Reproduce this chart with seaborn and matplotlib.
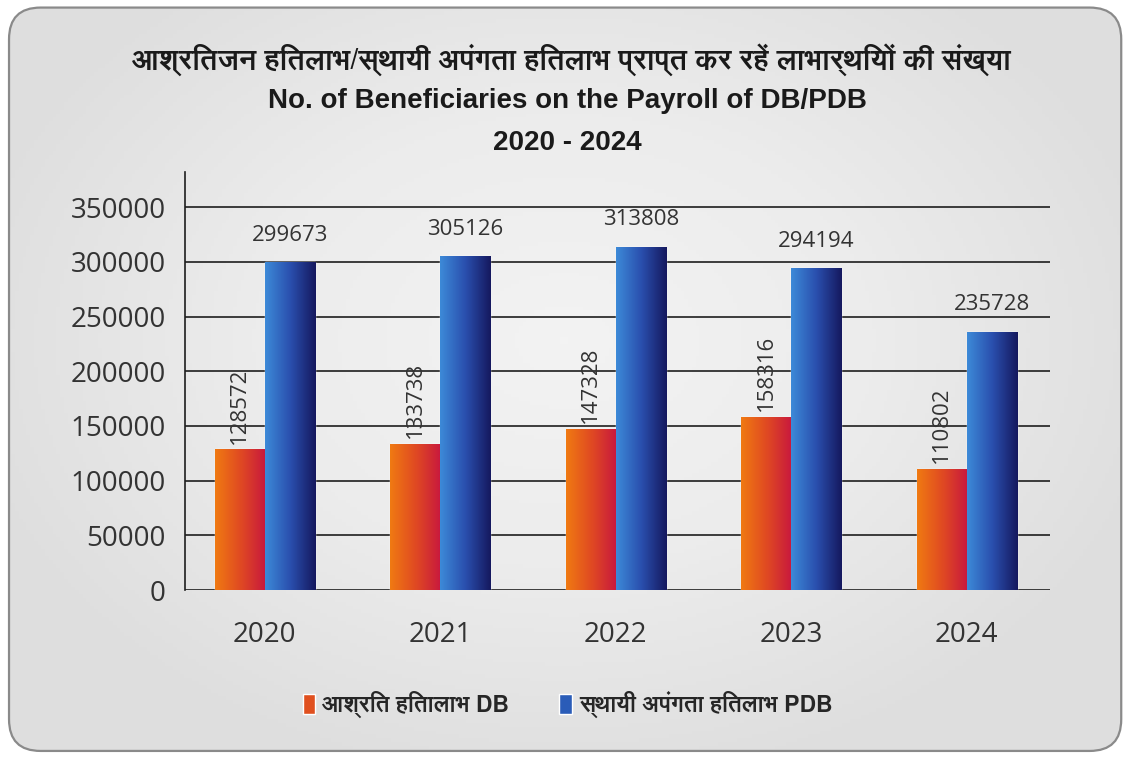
import numpy as np
import pandas as pd
import matplotlib
matplotlib.use('Agg')
import matplotlib.pyplot as plt
import seaborn as sns
from matplotlib import font_manager
from matplotlib.ft2font import FT2Font
from matplotlib.patches import FancyBboxPatch
from matplotlib.colors import LinearSegmentedColormap

# data
years = ['2020', '2021', '2022', '2023', '2024']
db_values = [128572, 133738, 147328, 158316, 110802]
pdb_values = [299673, 305126, 313808, 294194, 235728]
series_names = ['आश्रित हितालाभ DB', 'स्थायी अपंगता हितलाभ PDB']
y_ticks = [0, 50000, 100000, 150000, 200000, 250000, 300000, 350000]

title_hi = 'आश्रितजन हितलाभ/स्थायी अपंगता हितलाभ प्राप्त कर रहें लाभार्थियों की संख्या'
title_en = 'No. of Beneficiaries on the Payroll of DB/PDB'
title_yr = '2020 - 2024'


def find_devanagari_font():
    # pick an installed font with Devanagari glyphs, proportional ones first
    found = []
    for f in font_manager.fontManager.ttflist:
        try:
            if 0x0906 in FT2Font(f.fname).get_charmap():
                found.append(f.name)
        except Exception:
            pass
    found = sorted(set(found), key=lambda n: ('Mono' in n, 'Sans' not in n, n))
    return found[0] if found else None


sns.set_style('white')
deva = find_devanagari_font()
hindi_family = ([deva] if deva else []) + ['Liberation Sans', 'DejaVu Sans']
plt.rcParams['font.family'] = ['Open Sans', 'DejaVu Sans']

df = pd.DataFrame({
    'year': years * 2,
    'series': [series_names[0]] * len(years) + [series_names[1]] * len(years),
    'value': db_values + pdb_values,
})

fig = plt.figure(figsize=(11.28, 7.57), dpi=100)
fig.patch.set_facecolor('white')

# rounded grey panel with a soft radial shading behind the chart
bg_ax = fig.add_axes([0, 0, 1, 1], zorder=-5)
bg_ax.set_axis_off()
bg_ax.set_xlim(0, 1)
bg_ax.set_ylim(0, 1)
panel = FancyBboxPatch((0.008, 0.008), 0.986, 0.982, boxstyle='round,pad=0,rounding_size=0.028',
                       mutation_aspect=1128 / 757, facecolor='none', edgecolor='#8a8a8a', lw=1.6,
                       zorder=2)
bg_ax.add_patch(panel)
yy, xx = np.mgrid[0:1:200j, 0:1:300j]
shade = np.clip(np.hypot((xx - 0.5) / 0.55, (yy - 0.55) / 0.6), 0, 1)
bg_cmap = LinearSegmentedColormap.from_list('bg', ['#f3f3f3', '#ececec', '#dedede'])
bg_im = bg_ax.imshow(shade, extent=[0, 1, 0, 1], origin='lower', aspect='auto', cmap=bg_cmap, zorder=1)
bg_im.set_clip_path(panel)

ax = fig.add_axes([0.164, 0.2206, 0.767, 0.552])
ax.patch.set_alpha(0)

sns.barplot(data=df, x='year', y='value', hue='series', palette=['#e0501f', '#2a5cb8'],
            width=0.57, saturation=1, gap=0, ax=ax)

# gradient fill over each bar
cmaps = [LinearSegmentedColormap.from_list('db', ['#f07a12', '#e04a22', '#c8183e']),
         LinearSegmentedColormap.from_list('pdb', ['#3d8ad8', '#2a4fae', '#15185e'])]
grad = np.linspace(0, 1, 256).reshape(1, -1)
for cont, cmap in zip(ax.containers, cmaps):
    for bar in cont:
        x0, y0 = bar.get_x(), bar.get_y()
        im = ax.imshow(grad, extent=[x0, x0 + bar.get_width(), y0, y0 + bar.get_height()],
                       aspect='auto', cmap=cmap, zorder=bar.get_zorder() + 0.1)
        im.set_clip_path(bar)

# value labels
for bar, v in zip(ax.containers[0], db_values):
    ax.annotate(str(v), (bar.get_x() + bar.get_width() / 2, v), xytext=(0, 4),
                textcoords='offset points', ha='center', va='bottom', rotation=90,
                fontsize=16, color='#333333')
for bar, v in zip(ax.containers[1], pdb_values):
    ax.annotate(str(v), (bar.get_x() + bar.get_width() / 2, v), xytext=(0, 12),
                textcoords='offset points', ha='center', va='bottom',
                fontsize=16, color='#333333')

ax.set_xlim(-0.455, 4.475)
ax.set_ylim(0, 382000)
ax.set_yticks(y_ticks)
ax.set_yticklabels([str(t) for t in y_ticks])
ax.yaxis.grid(True, color='#1e1e1e', lw=1.2)
ax.set_axisbelow(True)
for s in ['top', 'right', 'bottom']:
    ax.spines[s].set_visible(False)
ax.spines['left'].set_color('#1e1e1e')
ax.spines['left'].set_linewidth(1.2)
ax.tick_params(axis='y', length=0, pad=14, labelsize=20, labelcolor='#333333')
ax.tick_params(axis='x', length=0, pad=22, labelsize=20, labelcolor='#333333')
ax.set_xlabel('')
ax.set_ylabel('')

handles, labels = ax.get_legend_handles_labels()
ax.get_legend().remove()
fig.legend(handles, labels, loc='center', bbox_to_anchor=(0.503, 0.069), ncol=2,
           frameon=False, handlelength=0.55, handleheight=0.95, handletextpad=0.3,
           columnspacing=2.2, prop={'family': hindi_family, 'size': 16.5, 'weight': 'bold'})

t_hi = fig.text(0.507, 1 - 60 / 757, title_hi, ha='center', va='center', fontsize=21,
                fontweight='bold', family=hindi_family, color='#1a1a1a')
# shrink the Hindi title so it spans about the same width as in the reference
renderer = fig.canvas.get_renderer()
w = t_hi.get_window_extent(renderer).width
if w > 880:
    t_hi.set_fontsize(21 * 880 / w)

fig.text(0.503, 1 - 101 / 757, title_en, ha='center', va='center', fontsize=20,
         fontweight='bold', family=['Liberation Sans Narrow', 'Liberation Sans', 'DejaVu Sans'],
         color='#1a1a1a')
fig.text(0.503, 1 - 143 / 757, title_yr, ha='center', va='center', fontsize=20,
         fontweight='bold', family=['Liberation Sans Narrow', 'Liberation Sans', 'DejaVu Sans'],
         color='#1a1a1a')

fig.savefig('out.png', dpi=100)
